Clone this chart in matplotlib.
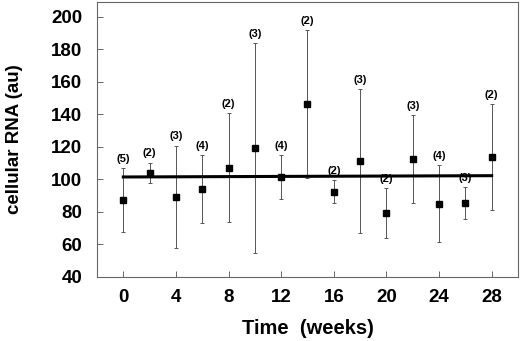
import numpy as np
import matplotlib.pyplot as plt

plt.rcParams['font.family'] = ['Liberation Sans', 'DejaVu Sans']
plt.rcParams['font.weight'] = 'bold'

weeks = np.array([0, 2, 4, 6, 8, 10, 12, 14, 16, 18, 20, 22, 24, 26, 28])
rna_mean = np.array([87.4, 104.0, 89.2, 94.0, 107.3, 119.4, 101.5, 146.3,
                     92.5, 111.2, 79.4, 112.6, 85.1, 85.5, 113.8])
rna_sd = np.array([19.5, 6.3, 31.6, 21.0, 33.3, 64.4, 13.3, 45.7,
                   6.9, 44.3, 15.5, 26.8, 23.8, 9.6, 32.7])
n_samples = [5, 2, 3, 4, 2, 3, 4, 2, 2, 3, 2, 3, 4, 3, 2]

# regression line end points
fit_x = [0, 28]
fit_y = [101.5, 102.3]

fig = plt.figure(figsize=(5.2, 3.41), dpi=100)
ax = fig.add_axes([0.1865, 0.1877, 0.8096, 0.806])

ax.errorbar(weeks, rna_mean, yerr=rna_sd, fmt='none', ecolor='#555555',
            elinewidth=0.7, capsize=1.5, capthick=0.7, zorder=2)
ax.plot(fit_x, fit_y, color='black', lw=2.2, zorder=3)
ax.plot(weeks, rna_mean, 's', color='black', markersize=5, zorder=4)

for x, m, s, n in zip(weeks, rna_mean, rna_sd, n_samples):
    ax.annotate('(%d)' % n, (x, m + s), xytext=(0, 3), textcoords='offset points',
                ha='center', va='bottom', fontsize=8, fontweight='bold')

ax.set_xlim(-2, 30)
ax.set_ylim(40, 209)
ax.set_xticks(np.arange(0, 29, 4))
ax.set_yticks(np.arange(40, 201, 20))

for sp in ax.spines.values():
    sp.set_color('#666666')
    sp.set_linewidth(0.8)
ax.tick_params(direction='in', length=4, width=0.7, color='#666666',
               labelsize=13.5)
ax.tick_params(axis='y', pad=10.5)
ax.tick_params(axis='x', pad=9)

ax.set_xlabel('Time  (weeks)', fontsize=14.5, fontweight='bold', labelpad=9)
ax.set_ylabel('cellular RNA (au)', fontsize=13.5, fontweight='bold', labelpad=20)

fig.savefig('out.png', dpi=100)
